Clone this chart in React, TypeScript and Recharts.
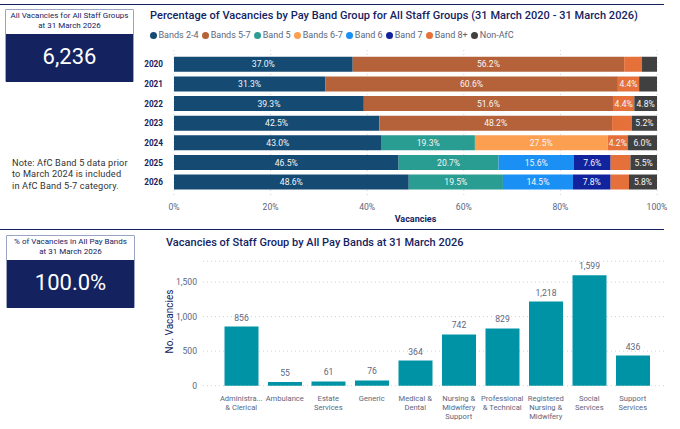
import React from 'react';
import { BarChart, Bar, XAxis, YAxis, CartesianGrid, LabelList } from 'recharts';

const years = ['2020', '2021', '2022', '2023', '2024', '2025', '2026'];
const bands24 = [37.0, 31.3, 39.3, 42.5, 43.0, 46.5, 48.6];
const bands57 = [56.2, 60.6, 51.6, 48.2, 0, 0, 0];
const band5 = [0, 0, 0, 0, 19.3, 20.7, 19.5];
const bands67 = [0, 0, 0, 0, 27.5, 0, 0];
const band6 = [0, 0, 0, 0, 0, 15.6, 14.5];
const band7 = [0, 0, 0, 0, 0, 7.6, 7.8];
const band8 = [3.7, 4.4, 4.4, 4.1, 4.2, 4.1, 3.8];
const nonAfc = [3.1, 3.7, 4.8, 5.2, 6.0, 5.5, 5.8];

const seriesNames = ['Bands 2-4', 'Bands 5-7', 'Band 5', 'Bands 6-7', 'Band 6', 'Band 7', 'Band 8+', 'Non-AfC'];
const seriesColors = ['#154a72', '#b5623a', '#2a9d92', '#fd9f50', '#1a90f4', '#12239e', '#e5703a', '#404040'];
const seriesValues = [bands24, bands57, band5, bands67, band6, band7, band8, nonAfc];
const percentTicks = [0, 20, 40, 60, 80, 100];

const staffGroups = [
  'Administra...\n& Clerical',
  'Ambulance',
  'Estate\nServices',
  'Generic',
  'Medical &\nDental',
  'Nursing &\nMidwifery\nSupport',
  'Professional\n& Technical',
  'Registered\nNursing &\nMidwifery',
  'Social\nServices',
  'Support\nServices',
];
const staffVacancies = [856, 55, 61, 76, 364, 742, 829, 1218, 1599, 436];
const vacancyTicks = [0, 500, 1000, 1500];

const bandData = years.map((year, i) => {
  const row: Record<string, number | string> = { year };
  seriesNames.forEach((name, s) => {
    row[name] = seriesValues[s][i];
  });
  return row;
});
const staffData = staffGroups.map((group, i) => ({ group, vacancies: staffVacancies[i] }));

const FONT = 'Roboto, sans-serif';
const NAVY = '#14235f';
const GREY = '#5c6680';

const Card = ({ left, top, title, value }: { left: number; top: number; title: string[]; value: string }) => (
  <div style={{ position: 'absolute', left, top, width: 129, height: 73, boxSizing: 'border-box', border: '1px solid #9aa5c4', borderRadius: 1 }}>
    <div style={{ height: 23, paddingTop: 1, textAlign: 'center', fontSize: 8, lineHeight: '9.5px', color: NAVY }}>
      {title.map(t => <div key={t}>{t}</div>)}
    </div>
    <div style={{ height: 48, background: NAVY, color: '#fff', textAlign: 'center', fontSize: 22, lineHeight: '46px' }}>
      {value}
    </div>
  </div>
);

const Rule = ({ top }: { top: number }) => (
  <div style={{ position: 'absolute', left: 0, top, width: 664, height: 1.5, background: NAVY }} />
);

const hideSmall = (v: number) => (v >= 4.2 ? `${v.toFixed(1)}%` : '');

const GroupTick = ({ x, y, payload }: any) => (
  <text x={x} y={y} textAnchor="middle" fontSize={7.6} fill={GREY} fontFamily={FONT}>
    {String(payload.value).split('\n').map((line, i) => (
      <tspan key={line} x={x} dy={i === 0 ? 7 : 9.3}>{line}</tspan>
    ))}
  </text>
);

const LegendRow = () => (
  <div style={{ position: 'absolute', left: 150, top: 29, display: 'flex', fontSize: 9, color: GREY, fontFamily: FONT, lineHeight: '12px' }}>
    {seriesNames.map((name, i) => (
      <span key={name} style={{ display: 'flex', alignItems: 'center', marginRight: 3.6 }}>
        <span style={{ width: 7, height: 7, borderRadius: 4, background: seriesColors[i], marginRight: 1.5 }} />
        {name}
      </span>
    ))}
  </div>
);

export default function App() {
  return (
    <div style={{ position: 'absolute', left: 0, top: 0, width: 680, height: 429, background: '#fff', overflow: 'hidden', fontFamily: FONT }}>
      <Rule top={3.5} />
      <Rule top={228.5} />
      <Card left={5} top={9} title={['All Vacancies for All Staff Groups', 'at 31 March 2026']} value="6,236" />
      <Card left={6} top={235} title={['% of Vacancies in All Pay Bands', 'at 31 March 2026']} value="100.0%" />
      <div style={{ position: 'absolute', left: 12, top: 157, fontSize: 9.2, lineHeight: '11.4px', color: '#333', letterSpacing: 0.15 }}>
        Note: AfC Band 5 data prior<br />to March 2024 is included<br />in AfC Band 5-7 category.
      </div>
      <div style={{ position: 'absolute', left: 150, top: 9, fontSize: 11, lineHeight: '14px', fontWeight: 500, color: NAVY, letterSpacing: 0.05, whiteSpace: 'nowrap' }}>
        Percentage of Vacancies by Pay Band Group for All Staff Groups (31 March 2020 - 31 March 2026)
      </div>
      <div style={{ position: 'absolute', left: 166, top: 236, fontSize: 11, lineHeight: '14px', fontWeight: 500, color: NAVY, letterSpacing: 0.02, whiteSpace: 'nowrap' }}>
        Vacancies of Staff Group by All Pay Bands at 31 March 2026
      </div>
      <LegendRow />

      <div style={{ position: 'absolute', left: 140, top: 28 }}>
        <BarChart
          width={530}
          height={200}
          layout="vertical"
          data={bandData}
          margin={{ top: 22, right: 13, bottom: 19, left: 0 }}
          barCategoryGap={2}
        >
          <CartesianGrid horizontal={false} stroke="#cfd3dc" strokeDasharray="1 3" />
          <XAxis
            type="number"
            domain={[0, 100]}
            ticks={percentTicks}
            allowDataOverflow
            tickFormatter={(v: number) => `${v}%`}
            tick={{ fontSize: 8.6, fill: GREY, fontFamily: FONT }}
            axisLine={false}
            tickLine={false}
            tickMargin={3}
            height={14}
            label={{ value: 'Vacancies', position: 'insideBottom', offset: -13, fontSize: 9, fontWeight: 700, fill: NAVY, fontFamily: FONT }}
          />
          <YAxis
            type="category"
            dataKey="year"
            width={34}
            padding={{ top: 4.75, bottom: 2.75 }}
            interval={0}
            tick={{ fontSize: 8.2, fontWeight: 700, fill: NAVY, fontFamily: FONT }}
            axisLine={false}
            tickLine={false}
            tickMargin={5}
          />
          {seriesNames.map((name, i) => (
            <Bar key={name} dataKey={name} stackId="bands" fill={seriesColors[i]} barSize={15} isAnimationActive={false}>
              <LabelList dataKey={name} position="center" formatter={hideSmall} fill="#f4f6f8" fontSize={8.6} fontFamily={FONT} />
            </Bar>
          ))}
        </BarChart>
      </div>

      <div style={{ position: 'absolute', left: 140, top: 240 }}>
        <BarChart
          width={530}
          height={189}
          data={staffData}
          margin={{ top: 21.3, right: 6, bottom: 0.3, left: 0 }}
        >
          <CartesianGrid vertical={false} stroke="#cfd3dc" strokeDasharray="1 3" />
          <XAxis
            dataKey="group"
            padding={{ left: 16.5, right: 9.5 }}
            interval={0}
            tick={<GroupTick />}
            axisLine={false}
            tickLine={false}
            height={43}
          />
          <YAxis
            type="number"
            domain={[0, 1800]}
            ticks={vacancyTicks}
            width={63}
            tickFormatter={(v: number) => v.toLocaleString('en-US')}
            tick={{ fontSize: 8.6, fill: GREY, fontFamily: FONT }}
            axisLine={false}
            tickLine={false}
            tickMargin={0}
            label={{ value: 'No. Vacancies', angle: -90, position: 'insideLeft', offset: 29, dy: -2, textAnchor: 'middle', fontSize: 10, fontWeight: 400, fill: NAVY, fontFamily: FONT }}
          />
          <Bar dataKey="vacancies" fill="#0093a5" barSize={34} isAnimationActive={false}>
            <LabelList
              dataKey="vacancies"
              position="top"
              offset={6}
              formatter={(v: number) => v.toLocaleString('en-US')}
              fill={GREY}
              fontSize={8.6}
              fontFamily={FONT}
            />
          </Bar>
        </BarChart>
      </div>
    </div>
  );
}
